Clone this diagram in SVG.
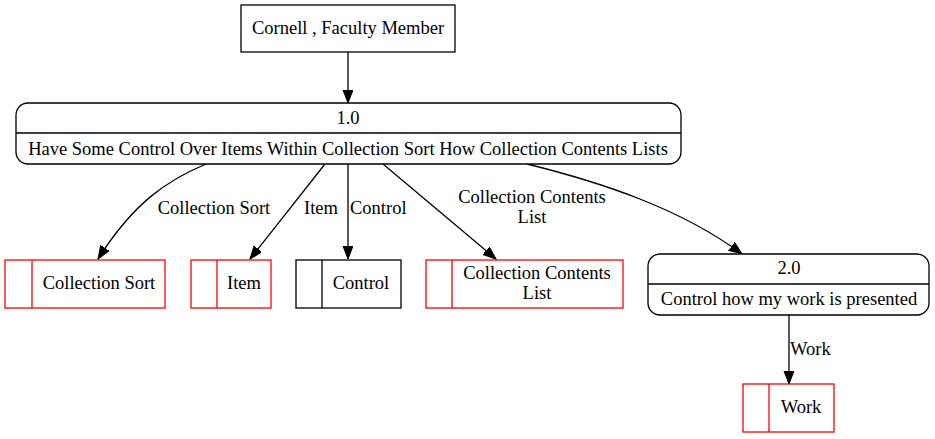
<svg xmlns="http://www.w3.org/2000/svg" width="935" height="439" viewBox="0 0 935 439">
<style>
text{font-family:'Times New Roman','Liberation Serif','DejaVu Serif',serif;font-size:18.5px;fill:#000}
.c{text-anchor:middle}
.e{fill:none;stroke:#000;stroke-width:1.3}
.k{fill:#fff;stroke:#000;stroke-width:1.3}
.r{fill:#fff;stroke:#ff0000;stroke-width:1.3}
</style>
<defs>
<marker id="a" markerUnits="userSpaceOnUse" markerWidth="14" markerHeight="12" refX="13" refY="5" orient="auto">
<path d="M0,0 L13,5 L0,10 z" fill="#000" stroke="#000"/>
</marker>
</defs>
<rect width="935" height="439" fill="#fff"/>
<g id="edges">
<path class="e" d="M348,52 L348,103" marker-end="url(#a)"/>
<path class="e" d="M206,164 C168,180 134,202 98,259" marker-end="url(#a)"/>
<text class="c" x="214" y="214">Collection Sort</text>
<path class="e" d="M325,164 L250,259" marker-end="url(#a)"/>
<text class="c" x="321" y="214">Item</text>
<path class="e" d="M348,164 L348,259" marker-end="url(#a)"/>
<text x="350" y="214">Control</text>
<path class="e" d="M383,164 L496,259" marker-end="url(#a)"/>
<text class="c" x="532" y="203">Collection Contents</text>
<text class="c" x="532" y="223">List</text>
<path class="e" d="M527,164 C600,182 680,208 742,254" marker-end="url(#a)"/>
<path class="e" d="M789,315 L789,384" marker-end="url(#a)"/>
<text x="790" y="355">Work</text>
</g>
<g id="n_cornell">
<rect class="k" x="241" y="5" width="214" height="47"/>
<text class="c" x="348" y="34">Cornell , Faculty Member</text>
</g>
<g id="n_1">
<rect class="k" x="16" y="103" width="665" height="61" rx="12"/>
<line x1="16" y1="133" x2="681" y2="133" stroke="#000" stroke-width="1.3"/>
<text class="c" x="348" y="124">1.0</text>
<text class="c" x="348" y="155">Have Some Control Over Items Within Collection Sort How Collection Contents Lists</text>
</g>
<g id="n_cs">
<rect class="r" x="5" y="260" width="160" height="48"/>
<line x1="32" y1="260" x2="32" y2="308" stroke="#ff0000" stroke-width="1.3"/>
<text class="c" x="99" y="289">Collection Sort</text>
</g>
<g id="n_item">
<rect class="r" x="191" y="260" width="80" height="48"/>
<line x1="217" y1="260" x2="217" y2="308" stroke="#ff0000" stroke-width="1.3"/>
<text class="c" x="244" y="289">Item</text>
</g>
<g id="n_control">
<rect class="k" x="296" y="260" width="105" height="48"/>
<line x1="322" y1="260" x2="322" y2="308" stroke="#000" stroke-width="1.3"/>
<text class="c" x="361" y="289">Control</text>
</g>
<g id="n_ccl">
<rect class="r" x="426" y="260" width="197" height="48"/>
<line x1="452" y1="260" x2="452" y2="308" stroke="#ff0000" stroke-width="1.3"/>
<text class="c" x="537" y="279">Collection Contents</text>
<text class="c" x="537" y="299">List</text>
</g>
<g id="n_2">
<rect class="k" x="648" y="254" width="281" height="61" rx="12"/>
<line x1="648" y1="284" x2="929" y2="284" stroke="#000" stroke-width="1.3"/>
<text class="c" x="789" y="274">2.0</text>
<text class="c" x="789" y="305">Control how my work is presented</text>
</g>
<g id="n_work">
<rect class="r" x="743" y="384" width="91" height="48"/>
<line x1="769" y1="384" x2="769" y2="432" stroke="#ff0000" stroke-width="1.3"/>
<text class="c" x="801" y="413">Work</text>
</g>
</svg>
